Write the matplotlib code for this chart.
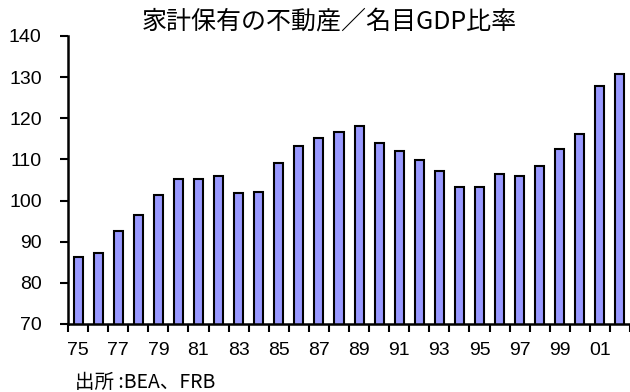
import matplotlib
matplotlib.use("Agg")
import matplotlib.pyplot as plt
import numpy as np

# data
years = ["75", "76", "77", "78", "79", "80", "81", "82", "83", "84",
         "85", "86", "87", "88", "89", "90", "91", "92", "93", "94",
         "95", "96", "97", "98", "99", "00", "01", "02"]
ratio = [86.2, 87.2, 92.7, 96.5, 101.4, 105.2, 105.2, 105.9, 101.8, 102.1,
         109.0, 113.3, 115.3, 116.7, 118.2, 113.9, 112.0, 109.9, 107.1, 103.3,
         103.3, 106.5, 105.9, 108.4, 112.4, 116.1, 127.9, 130.8]
yTicks = [70, 80, 90, 100, 110, 120, 130, 140]

title = "家計保有の不動産／名目GDP比率"
source = "出所 :BEA、FRB"

fontLatin = ["Liberation Sans", "Noto Sans CJK JP"]
fontCjk = ["Noto Sans CJK JP", "DejaVu Sans"]

fig = plt.figure(figsize=(6.3, 3.92), dpi=100)
ax = fig.add_axes([0.108, 0.1735, 0.892, 0.735])

x = np.arange(len(years))
ax.bar(x, ratio, width=0.45, bottom=0, color="#9999ff", edgecolor="black", linewidth=1.5)

ax.set_xlim(-0.5, len(years) - 0.5)
ax.set_ylim(70, 140)
ax.set_yticks(yTicks)
ax.set_yticklabels([str(v) for v in yTicks], fontfamily=fontLatin, fontsize=14)

# ticks at category boundaries, labels every other year under the bars
ax.set_xticks(np.arange(len(years) + 1) - 0.5)
ax.set_xticklabels([])
ax.set_xticks(x[::2], minor=True)
ax.set_xticklabels(years[::2], minor=True, fontfamily=fontLatin, fontsize=14)
ax.tick_params(axis="x", which="minor", length=0, pad=13)
ax.tick_params(axis="both", which="major", direction="out", length=6, width=1.5, color="black")
ax.tick_params(axis="y", which="major", pad=13)

for side in ["top", "right"]:
    ax.spines[side].set_visible(False)
for side in ["left", "bottom"]:
    ax.spines[side].set_linewidth(1.8)

fig.text(0.522, 0.945, title, ha="center", va="center", fontfamily=fontCjk, fontsize=18)
fig.text(0.119, 0.025, source, ha="left", va="center", fontfamily=fontCjk, fontsize=14)

fig.savefig("out.png", dpi=100)
